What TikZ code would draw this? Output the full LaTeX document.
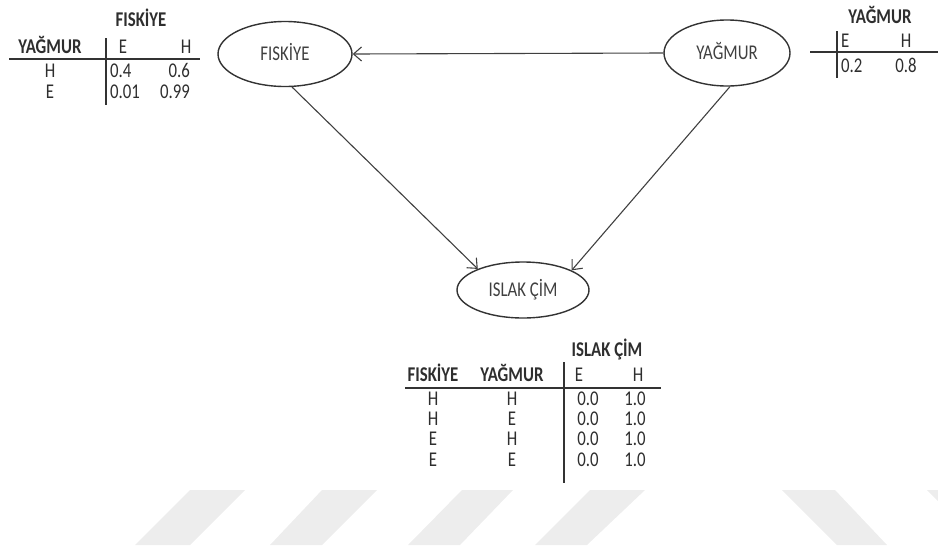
\documentclass[tikz,border=0pt]{standalone}
\usepackage{fontspec}
\setmainfont{Carlito}[FakeStretch=0.8]
\usetikzlibrary{shapes.geometric,arrows.meta}

\begin{document}
\begin{tikzpicture}[x=1pt,y=-1pt,
  base/.style={inner sep=0pt, text height=13.5pt, text depth=0pt, text=black!82},
  txt/.style={base, font=\fontsize{21}{24}\selectfont},
  hdr/.style={base, font=\fontsize{21}{24}\selectfont\bfseries},
  var/.style={ellipse, draw=black!80, line width=1.4pt, fill=white,
    font=\fontsize{21}{24}\selectfont, text=black!75, inner sep=0pt,
    text height=13.5pt, text depth=0pt},
  conn/.style={draw=black!75, line width=1.1pt,
    -{Straight Barb[length=8pt,width=14pt,line width=1.1pt]}},
  rule/.style={draw=black!80, line width=1.3pt},
  band/.style={fill=black!7, draw=none}
]
\useasboundingbox (0,0) rectangle (938,550);

% faint slanted bands along the bottom
\begin{scope}
  \clip (0,0) rectangle (938,550);
  \fill[band] (190,490) -- (245,490) -- (190,545) -- (135,545) -- cycle;
  \fill[band] (322,490) -- (377,490) -- (322,545) -- (270,545) -- cycle;
  \fill[band] (462,490) -- (513,490) -- (460,545) -- (408,545) -- cycle;
  \fill[band] (590,490) -- (645,490) -- (587,545) -- (535,545) -- cycle;
  \fill[band] (782,490) -- (835,490) -- (887,545) -- (837,545) -- cycle;
  \fill[band] (927,490) -- (980,490) -- (1032,545) -- (982,545) -- cycle;
\end{scope}

% network nodes
\node[var, minimum width=134pt, minimum height=65pt] (fis) at (285,54) {FISKİYE};
\node[var, minimum width=126pt, minimum height=66pt] (yag) at (727,53) {YAĞMUR};
\node[var, minimum width=132pt, minimum height=56pt] (isl) at (523,290) {ISLAK ÇİM};

% dependencies
\draw[conn] (yag.west) -- (fis.east);
\draw[conn] (fis.-78) -- (isl.155);
\draw[conn] (yag.-85) -- (isl.22);

% table: FISKIYE given YAGMUR
\node[hdr] (a0) at (141,20) {FISKİYE};
\node[hdr] (a1) at (50,47) {YAĞMUR};
\node[txt] (a2) at (123,47) {E};
\node[txt] (a3) at (186,47) {H};
\node[txt] (a4) at (50,71) {H};
\node[txt, anchor=west] (a5) at (110,71) {0.4};
\node[txt, anchor=east] (a6) at (190,71) {0.6};
\node[txt] (a7) at (50,92) {E};
\node[txt, anchor=west] (a8) at (110,92) {0.01};
\node[txt, anchor=east] (a9) at (190,92) {0.99};
\draw[rule] (9,59) -- (200,59);
\draw[rule] (106,38) -- (106,105);

% table: YAGMUR prior
\node[hdr] (b0) at (880,17) {YAĞMUR};
\node[txt, anchor=west] (b1) at (841,41) {E};
\node[txt] (b2) at (906,41) {H};
\node[txt, anchor=west] (b3) at (841,66) {0.2};
\node[txt] (b4) at (906,66) {0.8};
\draw[rule] (810,52) -- (938,52);
\draw[rule] (837,31) -- (837,78);

% table: ISLAK CIM given FISKIYE and YAGMUR
\node[hdr] (c0) at (607,350) {ISLAK ÇİM};
\node[hdr] (c1) at (433,375) {FISKİYE};
\node[hdr] (c2) at (512,375) {YAĞMUR};
\node[txt] (c3) at (579,375) {E};
\node[txt] (c4) at (638,375) {H};
\draw[rule] (405,388) -- (661,388);
\draw[rule] (564,362) -- (564,483);
\node[txt] (r1a) at (433,399) {H};
\node[txt] (r1b) at (512,399) {H};
\node[txt] (r1c) at (588,399) {0.0};
\node[txt] (r1d) at (635,399) {1.0};
\node[txt] (r2a) at (433,419) {H};
\node[txt] (r2b) at (512,419) {E};
\node[txt] (r2c) at (588,419) {0.0};
\node[txt] (r2d) at (635,419) {1.0};
\node[txt] (r3a) at (433,439) {E};
\node[txt] (r3b) at (512,439) {H};
\node[txt] (r3c) at (588,439) {0.0};
\node[txt] (r3d) at (635,439) {1.0};
\node[txt] (r4a) at (433,460) {E};
\node[txt] (r4b) at (512,460) {E};
\node[txt] (r4c) at (588,460) {0.0};
\node[txt] (r4d) at (635,460) {1.0};
\end{tikzpicture}
\end{document}
